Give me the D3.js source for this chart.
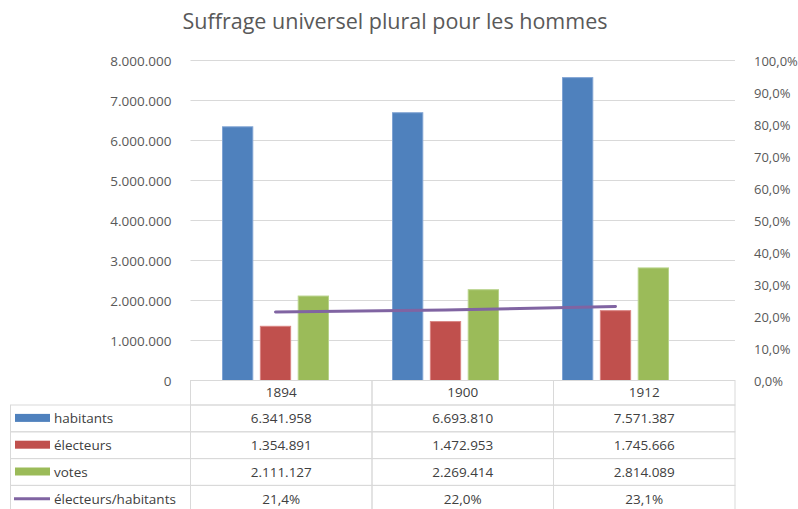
<!DOCTYPE html>
<html>
<head>
<meta charset="utf-8">
<script src="https://cdn.jsdelivr.net/npm/d3@7"></script>
<style>
  body { margin: 0; background: #fff; }
  text { font-family: "Open Sans", "Noto Sans", sans-serif; }
</style>
</head>
<body>
<div id="container"></div>
<script>
var width = 798, height = 509;

// data
var years = ["1894", "1900", "1912"];
var habitants = [6341958, 6693810, 7571387];
var electeurs = [1354891, 1472953, 1745666];
var votes = [2111127, 2269414, 2814089];
var ratio = [0.214, 0.220, 0.231];
var seriesNames = ["habitants", "électeurs", "votes", "électeurs/habitants"];
var leftTicks = [0, 1000000, 2000000, 3000000, 4000000, 5000000, 6000000, 7000000, 8000000];
var rightTicks = [0, 0.1, 0.2, 0.3, 0.4, 0.5, 0.6, 0.7, 0.8, 0.9, 1.0];

var colors = ["#4F81BD", "#C0504D", "#9BBB59", "#8064A2"];
var strokes = ["#7fa3d3", "#d98482", "#b8d38a"];

var svg = d3.select("#container").append("svg")
  .attr("width", width)
  .attr("height", height);

var plotLeft = 190.5, plotRight = 735, plotTop = 60.5, plotBottom = 380.5;

var yLeft = d3.scaleLinear().domain([0, 8000000]).range([plotBottom, plotTop]);
var yRight = d3.scaleLinear().domain([0, 1]).range([plotBottom, plotTop]);
// bars sit in a narrower band than the table columns (as in the picture)
var xBars = d3.scaleBand().domain(years).range([plotLeft, 700.5]).paddingInner(0).paddingOuter(0);
var xInner = d3.scaleBand().domain([0, 1, 2]).range([32, 138]).paddingInner(0.2);
var xTable = d3.scaleBand().domain(years).range([plotLeft, plotRight]);

var fmtNum = function(v){ return d3.format(",")(v).replace(/,/g, "."); };
var fmtPct = function(v){ return d3.format(".1f")(v * 100).replace(".", ",") + "%"; };

// title
svg.append("text")
  .attr("x", 395).attr("y", 29)
  .attr("text-anchor", "middle")
  .attr("font-size", 21.5)
  .attr("fill", "#595959")
  .text("Suffrage universel plural pour les hommes");

// gridlines
svg.append("g").selectAll("line")
  .data(leftTicks.slice(1))
  .enter().append("line")
  .attr("x1", plotLeft).attr("x2", plotRight)
  .attr("y1", d => yLeft(d)).attr("y2", d => yLeft(d))
  .attr("stroke", "#d9d9d9").attr("stroke-width", 1);

// left axis
var axL = svg.append("g")
  .attr("transform", "translate(" + (plotLeft - 16) + ",0)")
  .call(d3.axisLeft(yLeft).tickValues(leftTicks).tickFormat(fmtNum).tickSize(0));
axL.select(".domain").remove();
axL.selectAll("text").attr("font-size", 13.5).attr("fill", "#595959")
  .attr("font-family", "'Open Sans', sans-serif").attr("dy", "0.35em");

// right axis
var axR = svg.append("g")
  .attr("transform", "translate(" + (plotRight + 16) + ",0)")
  .call(d3.axisRight(yRight).tickValues(rightTicks).tickFormat(fmtPct).tickSize(0));
axR.select(".domain").remove();
axR.selectAll("text").attr("font-size", 13).attr("fill", "#595959")
  .attr("font-family", "'Open Sans', sans-serif").attr("dy", "0.35em");

// bars
var barSeries = [habitants, electeurs, votes];
barSeries.forEach(function(vals, s){
  svg.append("g").selectAll("rect")
    .data(vals)
    .enter().append("rect")
    .attr("x", (d, i) => xBars(years[i]) + xInner(s))
    .attr("width", xInner.bandwidth())
    .attr("y", d => yLeft(d))
    .attr("height", d => plotBottom - yLeft(d))
    .attr("fill", colors[s])
    .attr("stroke", strokes[s]).attr("stroke-width", 1);
});

// ratio line (on the middle bar of each group)
var line = d3.line()
  .x((d, i) => xBars(years[i]) + xInner(1) + xInner.bandwidth() / 2)
  .y(d => yRight(d));
svg.append("path")
  .datum(ratio)
  .attr("d", line)
  .attr("fill", "none")
  .attr("stroke", colors[3])
  .attr("stroke-width", 3)
  .attr("stroke-linecap", "round");

// data table
var tableLeft = 10.5;
var headerTop = plotBottom, headerH = 24.5, rowH = 26.8;
var grid = "#d9d9d9";
var t = svg.append("g");

// header cells
t.selectAll(".hcell")
  .data(years)
  .enter().append("rect")
  .attr("x", d => xTable(d)).attr("y", headerTop)
  .attr("width", xTable.bandwidth()).attr("height", headerH)
  .attr("fill", "none").attr("stroke", grid);
t.selectAll(".htext")
  .data(years)
  .enter().append("text")
  .attr("x", d => xTable(d) + xTable.bandwidth() / 2)
  .attr("y", headerTop + headerH / 2)
  .attr("dy", "0.35em").attr("text-anchor", "middle")
  .attr("font-size", 13.5).attr("fill", "#404040")
  .text(d => d);

var rows = [
  habitants.map(fmtNum),
  electeurs.map(fmtNum),
  votes.map(fmtNum),
  ratio.map(fmtPct)
];

rows.forEach(function(cells, r){
  var y0 = headerTop + headerH + r * rowH;
  var cy = y0 + rowH / 2;
  t.append("rect")
    .attr("x", tableLeft).attr("y", y0)
    .attr("width", plotLeft - tableLeft).attr("height", rowH)
    .attr("fill", "none").attr("stroke", grid);
  if (r < 3) {
    t.append("rect")
      .attr("x", 15).attr("y", cy - 4.5)
      .attr("width", 35).attr("height", 8)
      .attr("fill", colors[r]);
  } else {
    t.append("line")
      .attr("x1", 14).attr("x2", 50)
      .attr("y1", cy).attr("y2", cy)
      .attr("stroke", colors[3]).attr("stroke-width", 3);
  }
  t.append("text")
    .attr("x", 54).attr("y", cy)
    .attr("dy", "0.35em")
    .attr("font-size", 13.5).attr("fill", "#404040")
    .text(seriesNames[r]);

  years.forEach(function(yr, i){
    t.append("rect")
      .attr("x", xTable(yr)).attr("y", y0)
      .attr("width", xTable.bandwidth()).attr("height", rowH)
      .attr("fill", "none").attr("stroke", grid);
    t.append("text")
      .attr("x", xTable(yr) + xTable.bandwidth() / 2).attr("y", cy)
      .attr("dy", "0.35em").attr("text-anchor", "middle")
      .attr("font-size", 13.5).attr("fill", "#404040")
      .text(cells[i]);
  });
});
</script>
</body>
</html>
